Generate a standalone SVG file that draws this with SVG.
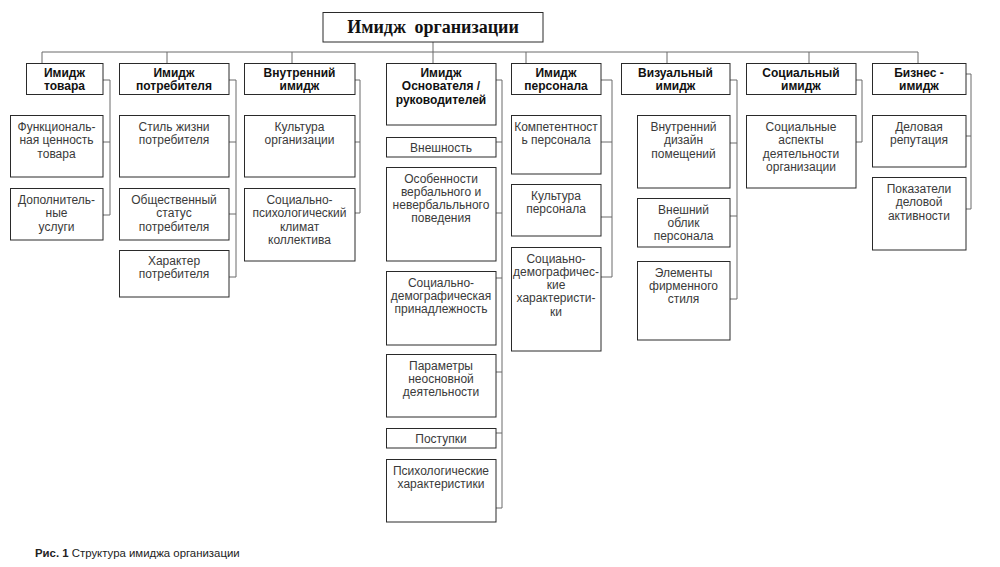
<svg xmlns="http://www.w3.org/2000/svg" width="1000" height="567" viewBox="0 0 1000 567">
<style>
.bg{fill:#fff}
rect{fill:#fff;stroke:#2a2a2a;stroke-width:1}
.c path{fill:none;stroke:#6a6a6a;stroke-width:1}
text{font-family:"Liberation Sans",Arial,sans-serif;text-anchor:middle}
.h{font-size:12px;font-weight:bold;fill:#111}
.t{font-size:12px;fill:#3a3a3a}
.title{font-family:"Liberation Serif","Times New Roman",serif;font-size:18px;font-weight:bold;fill:#111;word-spacing:4px}
.cap{font-size:11.4px;fill:#222;text-anchor:start}
</style>
<rect class="bg" x="0" y="0" width="1000" height="567" style="stroke:none"/>
<g class="c" id="connectors">
<path d="M433,42V52M42,52H918M42,52V63M167,52V63M292,52V63M433,52V63M526,52V63M667,52V63M809,52V63M918,52V63"/>
<path d="M103,80H110V215H103M103,142H110"/>
<path d="M229,80H236V277H229M229,142H236M229,214H236"/>
<path d="M355,80H360V213H355M355,142H360"/>
<path d="M496,80H502V508H496M496,142H502M496,213H502M496,278H502M496,372H502M496,433H502"/>
<path d="M601,80H612V277H601M601,142H612M601,217H612"/>
<path d="M730,80H737V299H730M730,143H737M730,216H737"/>
<path d="M856,80H862V142H856"/>
<path d="M966,74H971V209H966M966,136H971"/>
</g>
<g id="root"><rect x="323" y="12.5" width="220" height="29.5"/><text class="title" x="433" y="33">Имидж организации</text></g>
<g id="cat1"><rect x="26.5" y="63.5" width="76.5" height="31"/><text class="h" x="64.5" y="76.5">Имидж</text><text class="h" x="64.5" y="89.5">товара</text></g>
<g id="cat2"><rect x="119.5" y="63.5" width="109.5" height="31"/><text class="h" x="174" y="76.5">Имидж</text><text class="h" x="174" y="89.5">потребителя</text></g>
<g id="cat3"><rect x="244.5" y="63.5" width="110.5" height="31"/><text class="h" x="299.5" y="76.5">Внутренний</text><text class="h" x="299.5" y="89.5">имидж</text></g>
<g id="cat4"><rect x="386.5" y="63.5" width="109.5" height="61.5"/><text class="h" x="441" y="76.5">Имидж</text><text class="h" x="441" y="90">Основателя /</text><text class="h" x="441" y="103.5">руководителей</text></g>
<g id="cat5"><rect x="511.5" y="63.5" width="89.5" height="31"/><text class="h" x="556" y="76.5">Имидж</text><text class="h" x="556" y="89.5">персонала</text></g>
<g id="cat6"><rect x="621.5" y="63.5" width="108.5" height="31"/><text class="h" x="675.5" y="76.5">Визуальный</text><text class="h" x="675.5" y="89.5">имидж</text></g>
<g id="cat7"><rect x="746.5" y="63.5" width="109.5" height="31"/><text class="h" x="801" y="76.5">Социальный</text><text class="h" x="801" y="89.5">имидж</text></g>
<g id="cat8"><rect x="872.5" y="63.5" width="93.5" height="31"/><text class="h" x="919" y="76.5">Бизнес -</text><text class="h" x="919" y="89.5">имидж</text></g>

<g id="n1a"><rect x="10.5" y="115.5" width="92.5" height="61.5"/><text class="t" x="56.5" y="131">Функциональ-</text><text class="t" x="56.5" y="144.3">ная ценность</text><text class="t" x="56.5" y="157.6">товара</text></g>
<g id="n1b"><rect x="10.5" y="188.5" width="92.5" height="51.5"/><text class="t" x="56.5" y="204">Дополнитель-</text><text class="t" x="56.5" y="217.3">ные</text><text class="t" x="56.5" y="230.6">услуги</text></g>

<g id="n2a"><rect x="119.5" y="115.5" width="109.5" height="61.5"/><text class="t" x="174" y="131">Стиль жизни</text><text class="t" x="174" y="144.3">потребителя</text></g>
<g id="n2b"><rect x="119.5" y="188.5" width="109.5" height="51.5"/><text class="t" x="174" y="204">Общественный</text><text class="t" x="174" y="217.3">статус</text><text class="t" x="174" y="230.6">потребителя</text></g>
<g id="n2c"><rect x="119.5" y="250.5" width="109.5" height="46.5"/><text class="t" x="174" y="265">Характер</text><text class="t" x="174" y="278.3">потребителя</text></g>

<g id="n3a"><rect x="244.5" y="115.5" width="110.5" height="61.5"/><text class="t" x="299.5" y="131">Культура</text><text class="t" x="299.5" y="144.3">организации</text></g>
<g id="n3b"><rect x="244.5" y="188.5" width="110.5" height="72.5"/><text class="t" x="299.5" y="204">Социально-</text><text class="t" x="299.5" y="217.3">психологический</text><text class="t" x="299.5" y="230.6">климат</text><text class="t" x="299.5" y="243.9">коллектива</text></g>

<g id="n4a"><rect x="386.5" y="137.5" width="109.5" height="19.5"/><text class="t" x="441" y="151.5">Внешность</text></g>
<g id="n4b"><rect x="386.5" y="167.5" width="109.5" height="93.5"/><text class="t" x="441" y="182.5">Особенности</text><text class="t" x="441" y="195.8">вербального и</text><text class="t" x="441" y="209.1">невербальльного</text><text class="t" x="441" y="222.4">поведения</text></g>
<g id="n4c"><rect x="386.5" y="271.5" width="109.5" height="73.5"/><text class="t" x="441" y="286.5">Социально-</text><text class="t" x="441" y="299.8">демографическая</text><text class="t" x="441" y="313.1">принадлежность</text></g>
<g id="n4d"><rect x="386.5" y="354.5" width="109.5" height="62.5"/><text class="t" x="441" y="369.5">Параметры</text><text class="t" x="441" y="382.8">неосновной</text><text class="t" x="441" y="396.1">деятельности</text></g>
<g id="n4e"><rect x="386.5" y="428.5" width="109.5" height="19.5"/><text class="t" x="441" y="442.5">Поступки</text></g>
<g id="n4f"><rect x="386.5" y="459.5" width="109.5" height="62.5"/><text class="t" x="441" y="474.5">Психологические</text><text class="t" x="441" y="487.8">характеристики</text></g>

<g id="n5a"><rect x="511.5" y="115.5" width="89.5" height="58.5"/><text class="t" x="556" y="131">Компетентност</text><text class="t" x="556" y="144.3">ь персонала</text></g>
<g id="n5b"><rect x="511.5" y="184.5" width="89.5" height="51.5"/><text class="t" x="556" y="199.5">Культура</text><text class="t" x="556" y="212.8">персонала</text></g>
<g id="n5c"><rect x="511.5" y="247.5" width="89.5" height="103.5"/><text class="t" x="556" y="262.5">Социаьно-</text><text class="t" x="556" y="275.8">демографичес-</text><text class="t" x="556" y="289.1">кие</text><text class="t" x="556" y="302.4">характеристи-</text><text class="t" x="556" y="315.7">ки</text></g>

<g id="n6a"><rect x="637.5" y="115.5" width="92.5" height="72.5"/><text class="t" x="683.5" y="131">Внутренний</text><text class="t" x="683.5" y="144.3">дизайн</text><text class="t" x="683.5" y="157.6">помещений</text></g>
<g id="n6b"><rect x="637.5" y="198.5" width="92.5" height="48.5"/><text class="t" x="683.5" y="213.5">Внешний</text><text class="t" x="683.5" y="226.8">облик</text><text class="t" x="683.5" y="240.1">персонала</text></g>
<g id="n6c"><rect x="637.5" y="261.5" width="92.5" height="78.5"/><text class="t" x="683.5" y="276.5">Элементы</text><text class="t" x="683.5" y="289.8">фирменного</text><text class="t" x="683.5" y="303.1">стиля</text></g>

<g id="n7a"><rect x="746.5" y="115.5" width="109.5" height="72.5"/><text class="t" x="801" y="131">Социальные</text><text class="t" x="801" y="144.3">аспекты</text><text class="t" x="801" y="157.6">деятельности</text><text class="t" x="801" y="170.9">организации</text></g>

<g id="n8a"><rect x="872.5" y="115.5" width="93.5" height="51.5"/><text class="t" x="919" y="131">Деловая</text><text class="t" x="919" y="144.3">репутация</text></g>
<g id="n8b"><rect x="872.5" y="177.5" width="93.5" height="72.5"/><text class="t" x="919" y="193">Показатели</text><text class="t" x="919" y="206.3">деловой</text><text class="t" x="919" y="219.6">активности</text></g>

<g id="caption"><text class="cap" x="35" y="557"><tspan font-weight="bold">Рис. 1</tspan> Структура имиджа организации</text></g>
</svg>
